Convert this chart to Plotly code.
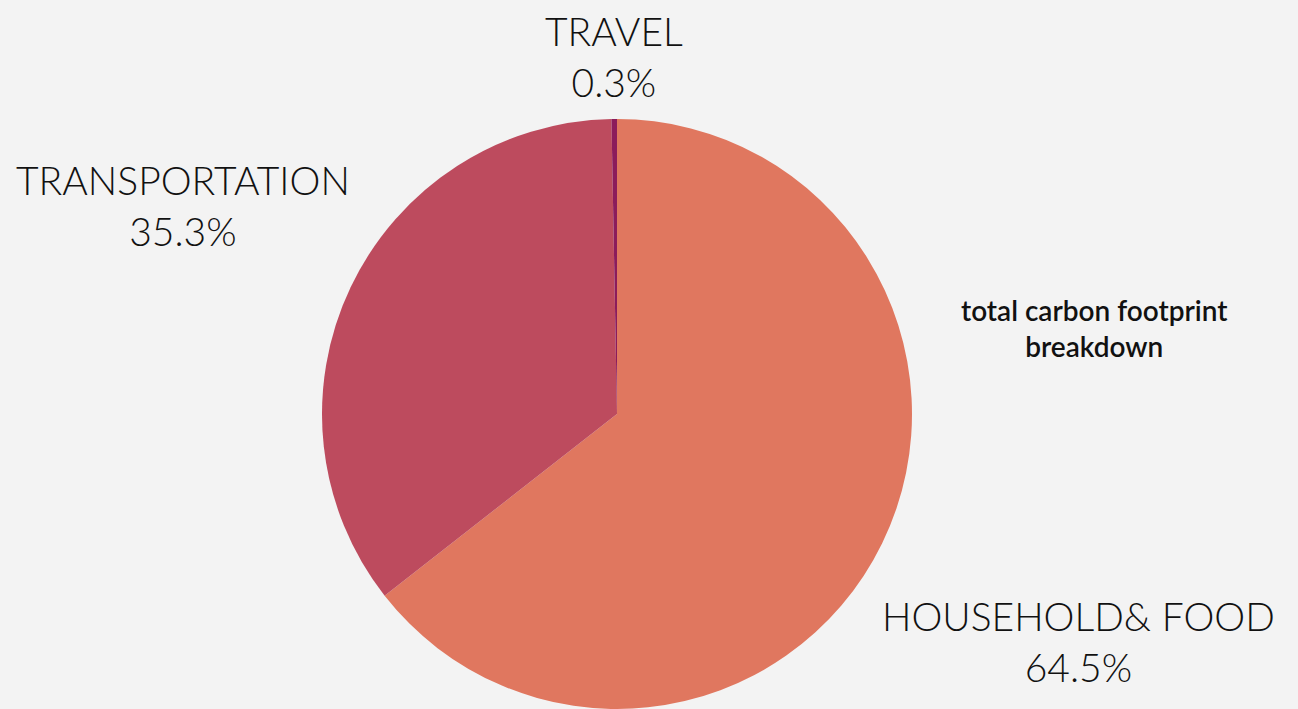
import plotly.graph_objects as go

categories = ["HOUSEHOLD& FOOD", "TRANSPORTATION", "TRAVEL"]
values = [64.5, 35.3, 0.3]
pct_labels = ["64.5%", "35.3%", "0.3%"]
colors = ["#E0775F", "#BD4B5E", "#8B1C5B"]
title_text = "total carbon footprint<br>breakdown"

W, H = 1298, 709
cx, cy, r = 617, 414, 295

fig = go.Figure(go.Pie(
    labels=categories,
    values=values,
    sort=False,
    direction="clockwise",
    rotation=0,
    marker=dict(colors=colors, line=dict(width=0)),
    textinfo="none",
    hoverinfo="label+percent",
    showlegend=False,
    domain=dict(x=[(cx - r) / W, (cx + r) / W],
                y=[max(0, 1 - (cy + r) / H), min(1, 1 - (cy - r) / H)]),
))

label_pos = [(1078, 641), (183, 205), (614, 57)]
font = dict(family="Lato", size=39, color="#111111", weight=300)
for name, pct, (x, y) in zip(categories, pct_labels, label_pos):
    fig.add_annotation(x=x / W, y=1 - y / H, xref="paper", yref="paper",
                       text=f"{name}<br>{pct}", showarrow=False,
                       xanchor="center", yanchor="middle", align="center", font=font)

fig.add_annotation(x=1094 / W, y=1 - 328 / H, xref="paper", yref="paper",
                   text=title_text, showarrow=False, xanchor="center", yanchor="middle",
                   align="center", font=dict(family="Lato", size=28, color="#111111", weight=600))

fig.update_layout(
    width=W, height=H,
    margin=dict(l=0, r=0, t=0, b=0),
    paper_bgcolor="#F3F3F3",
    plot_bgcolor="#F3F3F3",
)

fig.write_html("out.html", config={"displayModeBar": False},
               post_script="document.body.style.margin='0';document.body.style.background='#F3F3F3';")
